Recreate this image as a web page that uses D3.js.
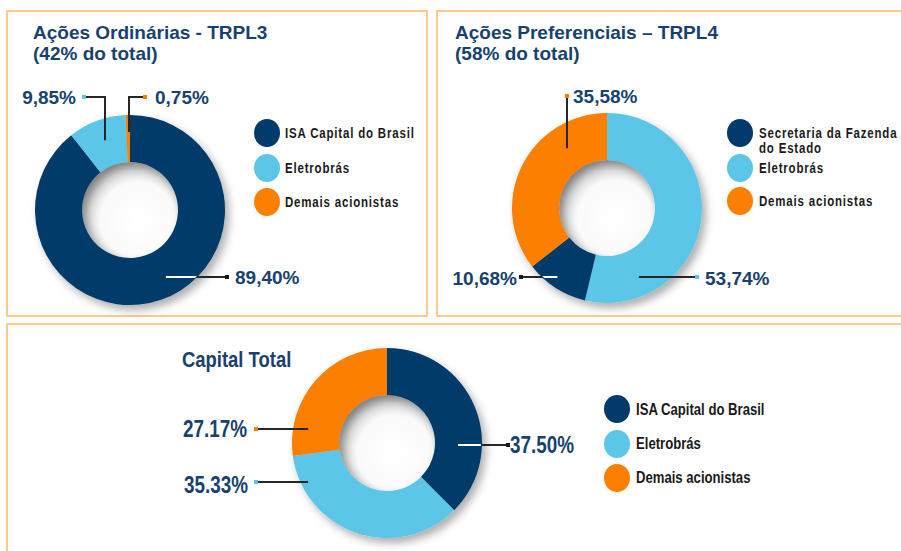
<!DOCTYPE html>
<html lang="pt">
<head>
<meta charset="utf-8">
<title>Composição Acionária</title>
<style>
  body{margin:0;background:#fff;}
  svg{display:block;}
  .panel{fill:#fff;stroke:#fdca8e;stroke-width:2;}
  .title{font-family:"Liberation Sans",Arial,sans-serif;font-weight:bold;font-size:19px;fill:#17426f;}
  .title.narrow{font-size:22.5px;}
  .pct{font-family:"Liberation Sans",Arial,sans-serif;font-weight:bold;font-size:19px;fill:#17426f;}
  .pct.narrow{font-size:23px;}
  .leg{font-family:"Liberation Sans",Arial,sans-serif;font-weight:bold;font-size:14px;letter-spacing:1px;fill:#1a1a1a;}
  .leg.big{font-size:16px;letter-spacing:0;}
  .lead{fill:none;stroke:#262626;stroke-width:2;}
</style>
</head>
<body>
<div id="chart"></div>
<script src="https://cdn.jsdelivr.net/npm/d3@7"></script>
<script>
// --- data ---
var ordCategories = ["ISA Capital do Brasil", "Eletrobrás", "Demais acionistas"];
var ordValues = [89.40, 9.85, 0.75];
var ordLabels = ["89,40%", "9,85%", "0,75%"];

var prefCategories = ["Eletrobrás", "Secretaria da Fazenda do Estado", "Demais acionistas"];
var prefValues = [53.74, 10.68, 35.58];
var prefLabels = ["53,74%", "10,68%", "35,58%"];
var prefLegend = ["Secretaria da Fazenda do Estado", "Eletrobrás", "Demais acionistas"];

var totCategories = ["ISA Capital do Brasil", "Eletrobrás", "Demais acionistas"];
var totValues = [37.50, 35.33, 27.17];
var totLabels = ["37.50%", "35.33%", "27.17%"];

var color = d3.scaleOrdinal()
  .domain(["ISA Capital do Brasil", "Secretaria da Fazenda do Estado", "Eletrobrás", "Demais acionistas"])
  .range(["#023a6b", "#023a6b", "#5bc6e8", "#fd7f00"]);
var navy = "#023a6b";

var W = 901, H = 551, outerR = 95, innerR = 48;
var squeeze = 0.82; // condensed look of the original typeface

var svg = d3.select("#chart").append("svg").attr("width", W).attr("height", H);

var defs = svg.append("defs");
var f = defs.append("filter").attr("id", "shadow")
  .attr("x", "-30%").attr("y", "-30%").attr("width", "170%").attr("height", "170%");
f.append("feGaussianBlur").attr("in", "SourceAlpha").attr("stdDeviation", 4);
f.append("feOffset").attr("dx", 4).attr("dy", 5).attr("result", "b");
f.append("feFlood").attr("flood-color", "#000").attr("flood-opacity", 0.32);
f.append("feComposite").attr("in2", "b").attr("operator", "in");
var fm = f.append("feMerge");
fm.append("feMergeNode");
fm.append("feMergeNode").attr("in", "SourceGraphic");

// shading of the donut hole
var rg = defs.append("radialGradient").attr("id", "hole")
  .attr("cx", "58%").attr("cy", "60%").attr("r", "62%");
rg.append("stop").attr("offset", "0%").attr("stop-color", "#fff");
rg.append("stop").attr("offset", "62%").attr("stop-color", "#fafafa");
rg.append("stop").attr("offset", "100%").attr("stop-color", "#b8b8b8");

// panels
svg.append("rect").attr("class", "panel").attr("x", 7).attr("y", 11).attr("width", 420).attr("height", 305);
svg.append("rect").attr("class", "panel").attr("x", 437).attr("y", 11).attr("width", 480).attr("height", 305);
svg.append("rect").attr("class", "panel").attr("x", 7).attr("y", 324).attr("width", 910).attr("height", 240);

var pie = d3.pie().sort(null).value(function(d){ return d.value; });
var arc = d3.arc().innerRadius(innerR).outerRadius(outerR);

// text placed at x,y, optionally squeezed horizontally
function place(t, x, y, sx){
  if (sx) t.attr("transform", "translate(" + x + "," + y + ") scale(" + sx + ",1)");
  else t.attr("x", x).attr("y", y);
  return t;
}

var charts = [
  {
    cats: ordCategories, vals: ordValues, labels: ordLabels, legend: ordCategories,
    cx: 130, cy: 210, title: ["Ações Ordinárias - TRPL3", "(42% do total)"], tx: 33, ty: [39, 60], narrow: false,
    legX: 267, legY: [133, 168, 202], legTextX: 285, legBase: [138, 173, 207], big: false,
    lab: [
      {type: "h", tx: 235, anchor: "start", base: 284, ly: 277, dot: 227, r: 76},
      {type: "e", tx: 76, anchor: "end", base: 104, ly: 97, dot: 84, ex: 105, r: 74},
      {type: "e", tx: 155, anchor: "start", base: 104, ly: 97, dot: 145, ex: 129, r: 78}
    ]
  },
  {
    cats: prefCategories, vals: prefValues, labels: prefLabels, legend: prefLegend,
    cx: 607, cy: 208, title: ["Ações Preferenciais – TRPL4", "(58% do total)"], tx: 455, ty: [39, 60], narrow: false,
    legX: 740, legY: [133, 168, 201], legTextX: 759, legBase: [138, 173, 206], big: false,
    lab: [
      {type: "h", tx: 705, anchor: "start", base: 285, ly: 277, dot: 697, r: 76},
      {type: "h", tx: 517, anchor: "end", base: 285, ly: 277, dot: 521, r: 85},
      {type: "e", tx: 573, anchor: "start", base: 103, ly: 96, dot: 567, ex: 567, r: 72}
    ]
  },
  {
    cats: totCategories, vals: totValues, labels: totLabels, legend: totCategories,
    cx: 387, cy: 443, title: ["Capital Total"], tx: 182, ty: [367], narrow: true,
    legX: 617, legY: [409, 444, 478], legTextX: 636, legBase: [415, 449, 483], big: true,
    lab: [
      {type: "h", tx: 510, anchor: "start", base: 453, ly: 445, dot: 508, r: 71},
      {type: "h", tx: 248, anchor: "end", base: 493, ly: 482, dot: 256, r: 88},
      {type: "h", tx: 247, anchor: "end", base: 437, ly: 429, dot: 256, r: 80}
    ]
  }
];

charts.forEach(function(c, ci){
  var data = c.cats.map(function(k, i){ return {cat: k, value: c.vals[i], label: c.labels[i]}; });
  var arcs = pie(data);
  var sx = c.narrow ? squeeze : null;

  // title
  c.title.forEach(function(t, i){
    place(svg.append("text").attr("class", "title" + (c.narrow ? " narrow" : "")), c.tx, c.ty[i], sx).text(t);
  });

  // donut
  var g = svg.append("g").attr("transform", "translate(" + c.cx + "," + c.cy + ")");
  g.append("circle").attr("r", innerR + 1).attr("fill", "url(#hole)");
  g.append("g").attr("filter", "url(#shadow)")
    .selectAll("path").data(arcs).enter().append("path")
    .attr("d", arc)
    .attr("fill", function(d){ return color(d.data.cat); });

  defs.append("clipPath").attr("id", "ring" + ci)
    .append("circle").attr("r", outerR - 1);

  // leader lines + labels
  arcs.forEach(function(a, i){
    var L = c.lab[i];
    var pts = [];
    var dotX = L.dot - c.cx, ly = L.ly - c.cy, inner;
    if (L.type === "h") {
      var s = dotX > 0 ? 1 : -1;
      inner = [s * Math.sqrt(L.r * L.r - ly * ly), ly];
      pts = [[dotX, ly], inner];
    } else {
      var ex = L.ex - c.cx;
      inner = [ex, -Math.sqrt(L.r * L.r - ex * ex)];
      pts = [[dotX, ly], [ex, ly], inner];
    }
    var line = d3.line();
    var slc = color(a.data.cat);
    g.append("path").attr("class", "lead").attr("d", line(pts));
    if (slc === navy) {
      g.append("path").attr("class", "lead").attr("clip-path", "url(#ring" + ci + ")")
        .style("stroke", "#fff").attr("d", line(pts));
    }
    g.append("rect")
      .attr("x", dotX - 2).attr("y", ly - 2).attr("width", 4).attr("height", 4)
      .attr("fill", slc === navy ? "#1a1a1a" : slc);

    place(svg.append("text").attr("class", "pct" + (c.narrow ? " narrow" : ""))
      .attr("text-anchor", L.anchor), L.tx, L.base, sx)
      .text(a.data.label);
  });

  // legend
  c.legend.forEach(function(k, i){
    svg.append("ellipse")
      .attr("cx", c.legX).attr("cy", c.legY[i]).attr("rx", 13).attr("ry", 14)
      .attr("fill", color(k));
    var t = place(svg.append("text").attr("class", "leg" + (c.big ? " big" : "")),
      c.legTextX, c.legBase[i], squeeze);
    if (k === "Secretaria da Fazenda do Estado") {
      t.append("tspan").attr("x", 0).text("Secretaria da Fazenda");
      t.append("tspan").attr("x", 0).attr("dy", 15).text("do Estado");
    } else {
      t.text(k);
    }
  });
});
</script>
</body>
</html>
